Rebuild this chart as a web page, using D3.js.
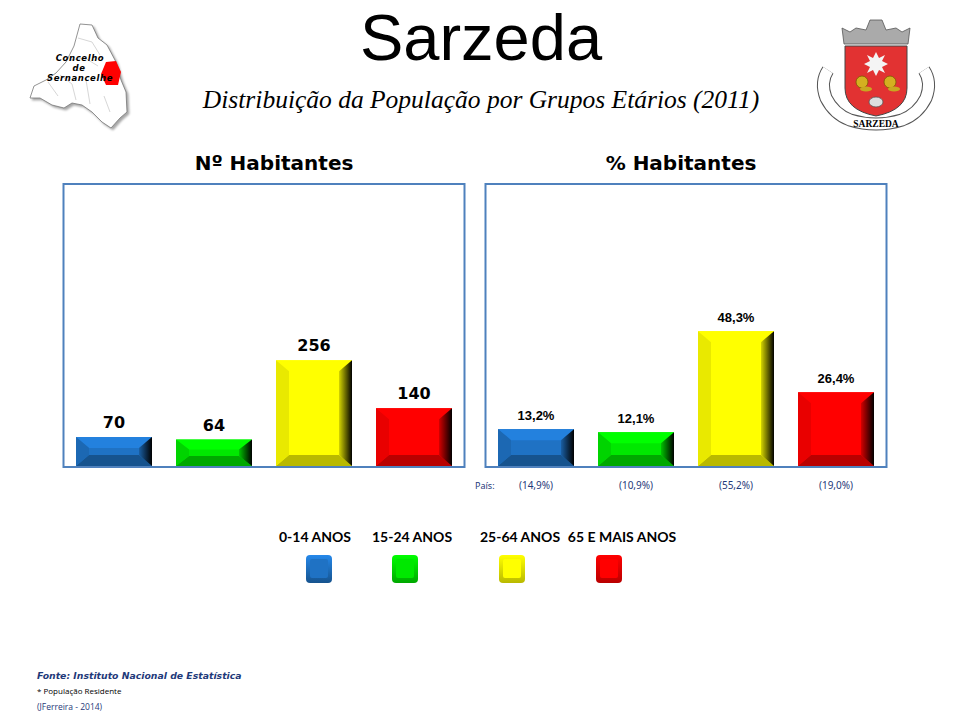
<!DOCTYPE html>
<html>
<head>
  <meta charset="utf-8">
  <title>Sarzeda</title>
  <script src="https://cdn.jsdelivr.net/npm/d3@7/dist/d3.min.js"></script>
  <style>
    body { margin: 0; background: #fff; }
    text { font-family: "Liberation Sans", Arial, sans-serif; }
  </style>
</head>
<body>
<script>

  // dados (Censos 2011)
  var categorias = ["0-14 ANOS", "15-24 ANOS", "25-64 ANOS", "65 E MAIS ANOS"];
  var habitantes = [70, 64, 256, 140];
  var percentagem = [13.2, 12.1, 48.3, 26.4];
  var pais = [14.9, 10.9, 55.2, 19.0];
  var cores = ["#1f72c4", "#00e800", "#ffff00", "#ff0000"];

  var width = 960, height = 720;

  var pt = d3.formatLocale({decimal: ",", thousands: ".", grouping: [3], currency: ["", "€"]});
  var fmtPct = pt.format(".1f");

  var svg = d3.select("body").append("svg")
    .attr("width", width)
    .attr("height", height);

  var defs = svg.append("defs");

  cores.forEach(function(c, i) {
    var g = defs.append("linearGradient").attr("id", "dir" + i)
      .attr("x1", 0).attr("x2", 1).attr("y1", 0).attr("y2", 0);
    g.append("stop").attr("offset", "0%").attr("stop-color", d3.color(c).darker(0.5));
    g.append("stop").attr("offset", "100%").attr("stop-color", "#000");
    var s = defs.append("linearGradient").attr("id", "sq" + i)
      .attr("x1", 0).attr("x2", 0).attr("y1", 0).attr("y2", 1);
    s.append("stop").attr("offset", "0%").attr("stop-color", d3.color(c).brighter(0.5));
    s.append("stop").attr("offset", "100%").attr("stop-color", d3.color(c).darker(0.9));
  });

  // titulos
  svg.append("text")
    .attr("x", 481).attr("y", 60)
    .attr("text-anchor", "middle")
    .style("font-size", "65px")
    .text("Sarzeda");

  svg.append("text")
    .attr("x", 481).attr("y", 108)
    .attr("text-anchor", "middle")
    .style("font-family", "'Liberation Serif', 'Times New Roman', serif")
    .style("font-style", "italic")
    .style("font-size", "25.5px")
    .text("Distribuição da População por Grupos Etários (2011)");

  // paineis
  var baseY = 466, topY = 184;

  var paineis = [
    {x0: 64, tx: 274, titulo: "Nº Habitantes", valores: habitantes, max: 683, fmt: d => d, fonte: "'DejaVu Sans', sans-serif", fs: 16},
    {x0: 486, tx: 681, titulo: "% Habitantes", valores: percentagem, max: 101, fmt: d => fmtPct(d) + "%", fonte: "'Liberation Sans', Arial, sans-serif", fs: 13}
  ];

  paineis.forEach(function(p, pi) {
    var x = d3.scaleBand()
      .domain(categorias)
      .range([p.x0, p.x0 + 400])
      .paddingInner(0.24)
      .paddingOuter(0.12);

    var y = d3.scaleLinear()
      .domain([0, p.max])
      .range([baseY, topY]);

    var g = svg.append("g");

    g.append("text")
      .attr("x", p.tx).attr("y", 170)
      .attr("text-anchor", "middle")
      .style("font-family", "'DejaVu Sans', Verdana, sans-serif")
      .style("font-weight", "bold")
      .style("font-size", "20px")
      .text(p.titulo);

    // barras com efeito chanfrado
    categorias.forEach(function(cat, i) {
      var v = p.valores[i];
      var bx0 = x(cat), bx1 = x(cat) + x.bandwidth();
      var by0 = y(v), by1 = y(0);
      var h = by1 - by0;
      var ex = 13, ey = Math.min(11, h * 0.38);
      var c = d3.color(cores[i]);
      var b = g.append("g");

      b.append("rect")
        .attr("x", bx0).attr("y", by0)
        .attr("width", bx1 - bx0).attr("height", h)
        .attr("fill", c);
      // topo
      b.append("polygon")
        .attr("points", [[bx0, by0], [bx1, by0], [bx1 - ex, by0 + ey], [bx0 + ex, by0 + ey]].join(" "))
        .attr("fill", c.brighter(0.35));
      // base
      b.append("polygon")
        .attr("points", [[bx0, by1], [bx1, by1], [bx1 - ex, by1 - ey], [bx0 + ex, by1 - ey]].join(" "))
        .attr("fill", c.darker(0.9));
      // esquerda
      b.append("polygon")
        .attr("points", [[bx0, by0], [bx0 + ex, by0 + ey], [bx0 + ex, by1 - ey], [bx0, by1]].join(" "))
        .attr("fill", c.darker(0.25));
      // direita
      b.append("polygon")
        .attr("points", [[bx1, by0], [bx1 - ex, by0 + ey], [bx1 - ex, by1 - ey], [bx1, by1]].join(" "))
        .attr("fill", "url(#dir" + i + ")");

      g.append("text")
        .attr("x", (bx0 + bx1) / 2).attr("y", by0 - 9)
        .attr("text-anchor", "middle")
        .style("font-family", p.fonte)
        .style("font-weight", "bold")
        .style("font-size", p.fs + "px")
        .text(p.fmt(v));

      if (pi == 1) {
        g.append("text")
          .attr("x", (bx0 + bx1) / 2).attr("y", 489)
          .attr("text-anchor", "middle")
          .attr("fill", "#1f3a7a")
          .style("font-family", "'Noto Sans', sans-serif")
          .style("font-size", "10px")
          .text("(" + fmtPct(pais[i]) + "%)");
      }
    });

    g.append("rect")
      .attr("x", p.x0 - 0.5).attr("y", topY)
      .attr("width", 401).attr("height", baseY - topY + 1)
      .attr("fill", "none")
      .attr("stroke", "#4f81bd")
      .attr("stroke-width", 2);
  });

  svg.append("text")
    .attr("x", 475).attr("y", 489)
    .attr("fill", "#1f3a7a")
    .style("font-family", "'Noto Sans', sans-serif")
    .style("font-size", "9px")
    .text("País:");

  // legenda
  var legX = [319, 405, 512, 609];
  var legTx = [315, 412, 520, 622];
  var leg = svg.append("g");
  categorias.forEach(function(cat, i) {
    leg.append("text")
      .attr("x", legTx[i]).attr("y", 542)
      .attr("text-anchor", "middle")
      .style("font-family", "Lato, 'Open Sans', sans-serif")
      .style("font-weight", "bold")
      .style("font-size", "14px")
      .text(cat);
    leg.append("rect")
      .attr("x", legX[i] - 13).attr("y", 555)
      .attr("width", 26).attr("height", 28)
      .attr("rx", 4)
      .attr("fill", "url(#sq" + i + ")");
    leg.append("rect")
      .attr("x", legX[i] - 9).attr("y", 559)
      .attr("width", 18).attr("height", 19)
      .attr("rx", 2)
      .attr("fill", cores[i]);
  });

  // rodape
  svg.append("text")
    .attr("x", 37).attr("y", 679)
    .attr("fill", "#1f3a7a")
    .style("font-family", "'DejaVu Sans', Verdana, sans-serif")
    .style("font-weight", "bold")
    .style("font-style", "italic")
    .style("font-size", "9.3px")
    .text("Fonte: Instituto Nacional de Estatística");
  svg.append("text")
    .attr("x", 37).attr("y", 694)
    .style("font-family", "'Open Sans', sans-serif")
    .style("font-size", "8px")
    .text("*  População Residente");
  svg.append("text")
    .attr("x", 37).attr("y", 710)
    .attr("fill", "#1f3a7a")
    .style("font-family", "'Open Sans', sans-serif")
    .style("font-size", "8.5px")
    .text("(JFerreira  - 2014)");

  // mapa do concelho (esboço)
  var mapa = svg.append("g");
  mapa.append("path")
    .attr("d", "M80,24 L92,25 L98,38 L107,45 L116,62 L121,80 L126,92 L127,112 L120,118 L111,128 L102,122 L92,112 L82,105 L72,103 L64,108 L52,105 L40,98 L30,98 L34,86 L46,80 L56,73 L66,62 L74,46 Z")
    .attr("fill", "#fff")
    .attr("stroke", "#777")
    .attr("stroke-width", 0.8)
    .style("filter", "drop-shadow(2px 2px 1px rgba(0,0,0,0.35))");
  mapa.append("path")
    .attr("d", "M78,38 L92,42 L100,55 M70,60 L85,58 L98,66 M60,75 L72,84 L76,100 M86,80 L90,104 M48,82 L58,96 M104,96 L110,112")
    .attr("fill", "none")
    .attr("stroke", "#bbb")
    .attr("stroke-width", 0.6);
  mapa.append("path")
    .attr("d", "M106,62 L116,61 L121,72 L118,85 L106,85 L101,74 Z")
    .attr("fill", "#ff0000");
  [["Concelho", 80, 61], ["de", 79, 71], ["Sernancelhe", 80, 81]].forEach(function(t) {
    mapa.append("text")
      .attr("x", t[1]).attr("y", t[2])
      .attr("text-anchor", "middle")
      .style("font-family", "'DejaVu Sans', sans-serif")
      .style("font-style", "italic")
      .style("font-weight", "bold")
      .style("font-size", "8.5px")
      .style("letter-spacing", "0.6px")
      .text(t[0]);
  });

  // brasao (esboço)
  var br = svg.append("g");
  var fita = "M828,70 Q820,82 826,98 Q834,114 850,120 Q876,128 902,120 Q918,114 926,98 Q932,82 924,70";
  br.append("path").attr("d", fita)
    .attr("fill", "none").attr("stroke", "#555").attr("stroke-width", 13);
  br.append("path").attr("d", fita)
    .attr("fill", "none").attr("stroke", "#fff").attr("stroke-width", 11);
  br.append("path")
    .attr("d", "M842,28 L850,32 L856,28 L866,30 L870,20 L882,20 L886,30 L896,28 L902,32 L910,28 L908,44 L844,44 Z")
    .attr("fill", "#aaa")
    .attr("stroke", "#555")
    .attr("stroke-width", 0.8);
  br.append("path")
    .attr("d", "M845,46 L907,46 L907,88 Q907,110 876,116 Q845,110 845,88 Z")
    .attr("fill", "#e23232")
    .attr("stroke", "#444")
    .attr("stroke-width", 1);
  br.append("path")
    .attr("d", "M876,52 L879,58 L885,55 L882,61 L888,64 L882,67 L885,73 L879,70 L876,76 L873,70 L867,73 L870,67 L864,64 L870,61 L867,55 L873,58 Z")
    .attr("fill", "#f4f4f4");
  [862, 890].forEach(function(cx) {
    br.append("circle").attr("cx", cx).attr("cy", 82).attr("r", 6)
      .attr("fill", "#d4b020").attr("stroke", "#7a5a00").attr("stroke-width", 0.8);
    br.append("ellipse").attr("cx", cx + 4).attr("cy", 89).attr("rx", 6).attr("ry", 2.5)
      .attr("fill", "#c8a820");
  });
  br.append("ellipse").attr("cx", 876).attr("cy", 102).attr("rx", 7).attr("ry", 5)
    .attr("fill", "#ddd").attr("stroke", "#555").attr("stroke-width", 0.8);
  br.append("text")
    .attr("x", 876).attr("y", 127)
    .attr("text-anchor", "middle")
    .style("font-family", "'Liberation Serif', serif")
    .style("font-weight", "bold")
    .style("font-size", "9.5px")
    .text("SARZEDA");

</script>
</body>
</html>
